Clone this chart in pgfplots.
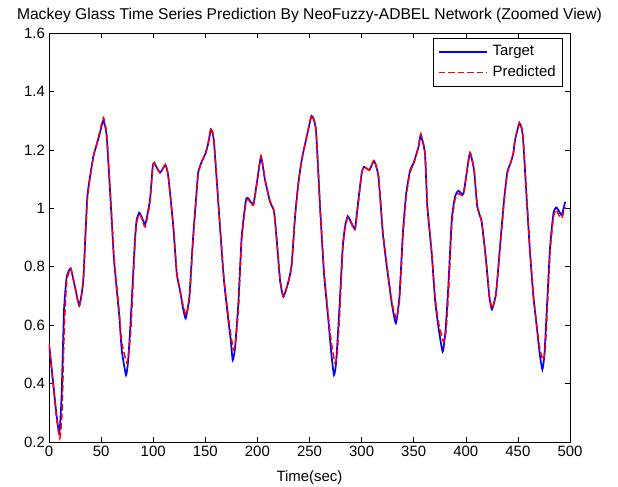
\documentclass[border=0pt]{standalone}
\usepackage{pgfplots}
\pgfplotsset{compat=1.18}
\usepackage{fontspec}
\setmainfont{Liberation Sans}
\usetikzlibrary{calc}
\begin{document}
\fontsize{15}{17}\selectfont
\begin{tikzpicture}
\begin{axis}[name=ax,
  scale only axis, width=521bp, height=409bp,
  xmin=0, xmax=500, ymin=0.2, ymax=1.6,
  xtick={0,50,...,500}, ytick={0.2,0.4,...,1.6},
  tick align=inside, major tick length=5bp,
  /pgf/number format/assume math mode=true,
  tick label style={font=\fontsize{15}{17}\selectfont},
  label style={font=\fontsize{15}{17}\selectfont},
  yticklabel style={/pgf/number format/fixed,/pgf/number format/precision=1, xshift=1bp},
  xticklabel style={yshift=1bp},
  axis line style={black, line width=0.6pt},
  tick style={black, line width=0.5pt},
  title={Mackey Glass Time Series Prediction By NeoFuzzy-ADBEL Network (Zoomed View)},
  title style={font=\fontsize{15.7}{17}\selectfont, yshift=-1bp},
  xlabel={Time(sec)},
  xlabel style={yshift=-4bp},
  legend style={at={(0.9865,0.987)}, anchor=north east, draw=black, line width=0.5pt, fill=white,
    font=\fontsize{15}{17}\selectfont, row sep=4pt, inner xsep=5pt, inner ysep=5pt},
  legend cell align=left,
  legend image code/.code={\draw[#1] (0bp,0bp) -- (48bp,0bp); \path (51bp,0bp);},
]
\addplot[blue, line width=1.7pt, smooth, tension=0.3] coordinates {
(0,0.537) (4.1,0.40) (7,0.30) (9.9,0.229) (12,0.35) (14.4,0.651) (17,0.765) (20.8,0.794)
(25,0.73) (29.1,0.668) (32.9,0.754) (36.8,1.04) (42.5,1.176) (45.1,1.21) (48.3,1.25)
(52.1,1.30) (55.4,1.245) (60.2,0.96) (62.4,0.823) (67.5,0.628) (69.8,0.514) (73.9,0.429)
(76,0.48) (78.4,0.617) (82.5,0.891) (84.1,0.96) (86.6,0.985) (89,0.97) (92.4,0.946)
(96.9,1.028) (99.5,1.142) (101.1,1.154) (106.5,1.122) (111.7,1.148) (114.5,1.108)
(119.3,0.937) (122.6,0.777) (125.7,0.72) (128.5,0.66) (131.2,0.623) (134.7,0.697)
(137.9,0.88) (141,1.028) (143.3,1.125) (146.5,1.159) (150.3,1.188) (152.8,1.222)
(155.5,1.27) (158.3,1.228) (164.1,0.937) (167.9,0.754) (172.1,0.617) (174.4,0.549)
(176.3,0.48) (178.5,0.52) (181.7,0.675) (184.9,0.902) (189.0,1.028) (191.3,1.034)
(196.1,1.014) (199.9,1.097) (203.5,1.176) (207.3,1.097) (212.1,1.022) (216,0.988)
(219.1,0.868) (221.7,0.754) (224.9,0.697) (229.7,0.748) (232.9,0.806) (236.1,0.971)
(239.3,1.085) (242.5,1.165) (247.3,1.245) (252.1,1.316) (256.2,1.268) (260.1,1.005)
(263.9,0.777) (268.1,0.617) (271,0.50) (273.5,0.429) (275.5,0.47) (278.6,0.651)
(281.9,0.868) (284.1,0.937) (286.7,0.973) (290.5,0.948) (293.7,0.931) (296.9,1.028)
(300.1,1.12) (302.3,1.142) (307.5,1.131) (312,1.162) (316.2,1.108) (320.4,0.914)
(324.2,0.80) (329.0,0.674) (332.9,0.606) (336.3,0.697) (339.6,0.914) (342.8,1.051)
(346.6,1.131) (349.8,1.154) (354.6,1.21) (356.7,1.25) (360.8,1.188) (363.1,1.005)
(367.3,0.845) (370.5,0.686) (373.7,0.594) (377.8,0.509) (380.5,0.58) (383.2,0.731)
(386.5,0.96) (389.6,1.04) (392.8,1.06) (397.6,1.049) (400.8,1.12) (404,1.19)
(407.9,1.131) (411,1.005) (415.2,0.954) (419.4,0.823) (422.6,0.697) (425.1,0.654)
(429,0.709) (432.8,0.868) (436.7,1.028) (439.9,1.125) (443.1,1.156) (445.6,1.188)
(447.3,1.234) (451.5,1.291) (454.7,1.25) (458.5,1.028) (461.7,0.845) (464.9,0.697)
(468.1,0.594) (471,0.50) (473.5,0.448) (475.5,0.50) (477.7,0.651) (480.9,0.868)
(484.1,0.983) (486.7,1.003) (489.5,0.99) (492.1,0.977) (495.3,1.022)
};
\addlegendentry{Target}
\addplot[red, line width=1.5pt, dash pattern=on 6.5bp off 3bp, smooth, tension=0.3] coordinates {
(0,0.537) (4.1,0.39) (7,0.29) (10.3,0.212) (12.5,0.30) (14.8,0.60) (17,0.75) (20.8,0.794)
(25,0.73) (29.1,0.665) (32.9,0.75) (36.8,1.03) (42.5,1.176) (45.1,1.21) (48.3,1.255)
(52.3,1.31) (55.4,1.25) (60.2,0.97) (62.4,0.83) (67.5,0.64) (69.8,0.54) (74.8,0.47)
(77,0.52) (78.8,0.60) (82.5,0.88) (84.1,0.95) (86.6,0.98) (89,0.965) (92.4,0.936)
(96.9,1.02) (99.5,1.14) (101.1,1.157) (106.5,1.122) (111.7,1.15) (114.5,1.11)
(119.3,0.94) (122.6,0.78) (125.7,0.72) (128.5,0.67) (131.6,0.634) (134.9,0.69)
(137.9,0.87) (141,1.02) (143.3,1.12) (146.5,1.159) (150.3,1.19) (152.8,1.225)
(155.5,1.275) (158.3,1.23) (164.1,0.94) (167.9,0.76) (172.1,0.63) (174.4,0.57)
(177,0.515) (179,0.54) (181.9,0.66) (184.9,0.89) (189.0,1.02) (191.3,1.03)
(196.1,1.01) (199.9,1.095) (203.5,1.18) (207.3,1.1) (212.1,1.025) (216,0.99)
(219.1,0.87) (221.7,0.76) (224.9,0.70) (229.7,0.748) (232.9,0.806) (236.1,0.97)
(239.3,1.085) (242.5,1.165) (247.3,1.245) (252.1,1.32) (256.2,1.27) (260.1,1.01)
(263.9,0.79) (268.1,0.63) (271,0.54) (274.5,0.47) (276.5,0.50) (278.8,0.63)
(281.9,0.86) (284.1,0.93) (286.7,0.968) (290.5,0.945) (293.7,0.926) (296.9,1.02)
(300.1,1.12) (302.3,1.142) (307.5,1.131) (312,1.165) (316.2,1.11) (320.4,0.92)
(324.2,0.81) (329.0,0.68) (333.3,0.623) (336.5,0.69) (339.6,0.90) (342.8,1.04)
(346.6,1.125) (349.8,1.15) (354.6,1.21) (356.9,1.255) (360.8,1.19) (363.1,1.01)
(367.3,0.85) (370.5,0.70) (373.7,0.61) (378.6,0.543) (381,0.58) (383.4,0.71)
(386.5,0.94) (389.6,1.03) (392.8,1.05) (397.6,1.045) (400.8,1.12) (404,1.19)
(407.9,1.135) (411,1.01) (415.2,0.955) (419.4,0.825) (422.6,0.70) (425.3,0.658)
(429,0.705) (432.8,0.86) (436.7,1.02) (439.9,1.12) (443.1,1.156) (445.6,1.19)
(447.3,1.236) (451.5,1.295) (454.7,1.255) (458.5,1.035) (461.7,0.85) (464.9,0.70)
(468.1,0.60) (471,0.52) (474.2,0.48) (476.2,0.52) (477.9,0.63) (480.9,0.85)
(484.1,0.97) (486.7,0.995) (489.5,0.975) (492.1,0.966) (495.3,1.005)
};
\addlegendentry{Predicted}
\end{axis}
\pgfresetboundingbox
\path ($(ax.south west)+(-49bp,-45bp)$) rectangle ($(ax.north east)+(48bp,33bp)$);
\end{tikzpicture}
\end{document}
